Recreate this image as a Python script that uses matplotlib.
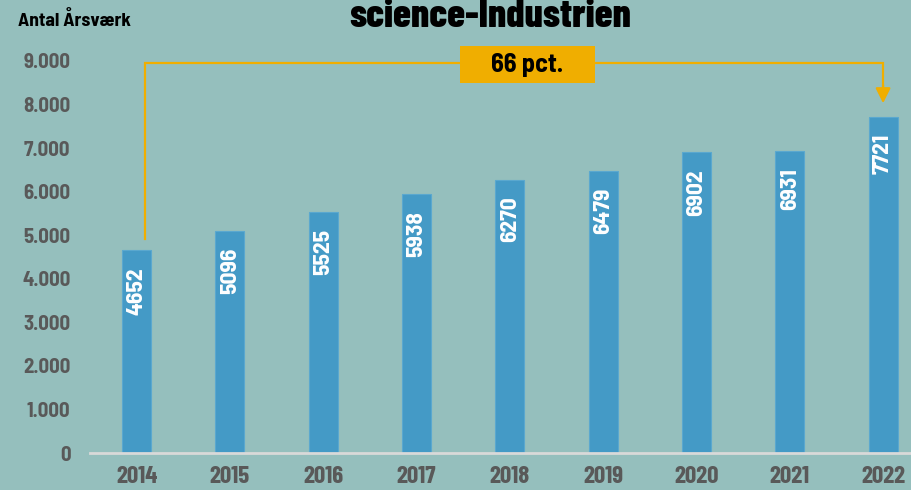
import matplotlib
matplotlib.use("Agg")
import matplotlib.pyplot as plt
from matplotlib.patches import Rectangle
from matplotlib.ticker import FuncFormatter

years = ["2014", "2015", "2016", "2017", "2018", "2019", "2020", "2021", "2022"]
aarsvaerk = [4652, 5096, 5525, 5938, 6270, 6479, 6902, 6931, 7721]
y_ticks = [0, 1000, 2000, 3000, 4000, 5000, 6000, 7000, 8000, 9000]
growth_label = "66 pct."
title = "science-Industrien"
y_label = "Antal Årsværk"

BG = "#95bfbd"
BAR = "#449ac6"
ORANGE = "#f0ae00"
GRAY = "#595959"
COND = ["Barlow Condensed", "DejaVu Sans"]
SEMI = ["Barlow Semi Condensed", "DejaVu Sans"]

plt.rcParams["font.family"] = COND
plt.rcParams["font.weight"] = "bold"

fig = plt.figure(figsize=(9.12, 4.90), dpi=100, facecolor=BG)
ax = fig.add_axes([90 / 912, 37 / 490, 1 - 90 / 912, 1 - 37 / 490])
ax.set_facecolor(BG)

x = list(range(len(years)))
ax.bar(x, aarsvaerk, width=0.31, color=BAR, edgecolor="#5aa8cf", linewidth=0.8, zorder=2)

# value labels, rotated, inside the top of each bar
for xi, v in zip(x, aarsvaerk):
    ax.annotate(str(v), (xi, v), xytext=(0, -12), textcoords="offset points",
                rotation=90, ha="center", va="top", color="white",
                fontsize=17, fontweight="bold", family=SEMI, zorder=3)

ax.set_xlim(-0.5, 8.31)
ax.set_ylim(0, 10400)
ax.set_xticks(x)
ax.set_xticklabels(years)
ax.set_yticks(y_ticks)
ax.yaxis.set_major_formatter(FuncFormatter(lambda v, p: f"{int(v):,}".replace(",", ".")))
ax.tick_params(axis="x", length=0, pad=9, labelsize=18, labelcolor=GRAY)
ax.tick_params(axis="y", length=0, pad=14, labelsize=15, labelcolor=GRAY)
for lab in ax.get_yticklabels():
    lab.set_family(SEMI)
    lab.set_fontweight("bold")

for side in ["top", "right", "left"]:
    ax.spines[side].set_visible(False)
ax.spines["bottom"].set_color("#d9d9d9")
ax.spines["bottom"].set_linewidth(2)

# growth bracket from 2014 to 2022
x0, x1 = 0.09, x[-1]
y_top = 8950
ax.plot([x0, x0, x1, x1], [aarsvaerk[0] + 260, y_top, y_top, 8400],
        color=ORANGE, lw=1.6, solid_joinstyle="miter", zorder=1, clip_on=False)
ax.annotate("", xy=(x1, 8030), xytext=(x1, 8450),
            arrowprops=dict(arrowstyle="-|>,head_width=0.45,head_length=0.9",
                            color=ORANGE, lw=1.6, shrinkA=0, shrinkB=0))
ax.add_patch(Rectangle((3.47, 8494), 1.44, 850, facecolor=ORANGE, edgecolor="none", zorder=4))
ax.text(4.19, 8919, growth_label, ha="center", va="center", fontsize=19,
        fontweight="bold", family=SEMI, color="black", zorder=5)

fig.text(490 / 912, 1 - 27 / 490, title, ha="center", va="baseline",
         fontsize=29, fontweight=800, color="black")
fig.text(18 / 912, 1 - 21 / 490, y_label, ha="left", va="center",
         fontsize=14, fontweight="bold", family=SEMI, color="black")

fig.savefig("out.png", dpi=100, facecolor=BG)
